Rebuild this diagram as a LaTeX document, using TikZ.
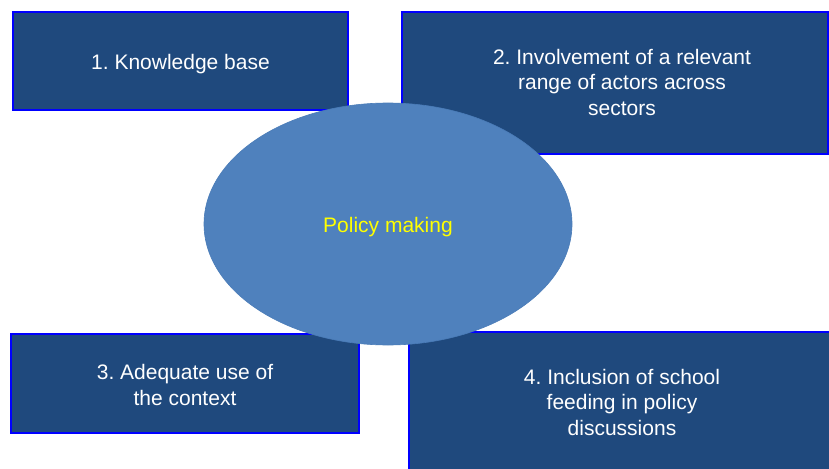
\documentclass[tikz,border=0pt]{standalone}
\usepackage{fontspec}
\setmainfont{Liberation Sans}
\usetikzlibrary{shapes.geometric}
\definecolor{boxfill}{HTML}{1F497D}
\definecolor{boxedge}{HTML}{0000FF}
\definecolor{ovalfill}{HTML}{4F81BD}
\definecolor{ovaledge}{HTML}{4A7CB8}
\definecolor{ovaltext}{HTML}{FFFF00}
\frenchspacing
\begin{document}
\begin{tikzpicture}[x=1pt,y=-1pt,
  factor/.style={draw=boxedge,line width=2pt,fill=boxfill,rectangle,inner sep=0pt},
  factortext/.style={text=white,align=center,inner sep=0pt,font=\fontsize{21}{25.5}\selectfont},
  hub/.style={ellipse,draw=ovaledge,line width=0.6pt,fill=ovalfill,inner sep=0pt,minimum width=368pt,minimum height=242pt},
  hubtext/.style={text=ovaltext,inner sep=0pt,font=\fontsize{21}{25.5}\selectfont}]
\useasboundingbox (0,0) rectangle (829,468);
\clip (0,0) rectangle (829,468);
% four success factors
\node[factor,minimum width=335pt,minimum height=98pt] (b1) at (180.5,61) {};
\node[factor,minimum width=426pt,minimum height=142pt] (b2) at (615,83) {};
\node[factor,minimum width=348pt,minimum height=99pt] (b3) at (185,383.5) {};
\node[factor,minimum width=440pt,minimum height=160pt] (b4) at (629,412) {};
\node[factortext] (t1) at (180.5,64) {1. Knowledge base};
\node[factortext] (t2) at (622,82) {2. Involvement of a relevant\\range of actors across\\sectors};
\node[factortext] (t3) at (185,385) {3. Adequate use of\\the context};
\node[factortext] (t4) at (622,402) {4. Inclusion of school\\feeding in policy\\discussions};
% central oval
\node[hub] (pm) at (388,224) {};
\node[hubtext] (pmt) at (388,227) {Policy making};
\end{tikzpicture}
\end{document}
